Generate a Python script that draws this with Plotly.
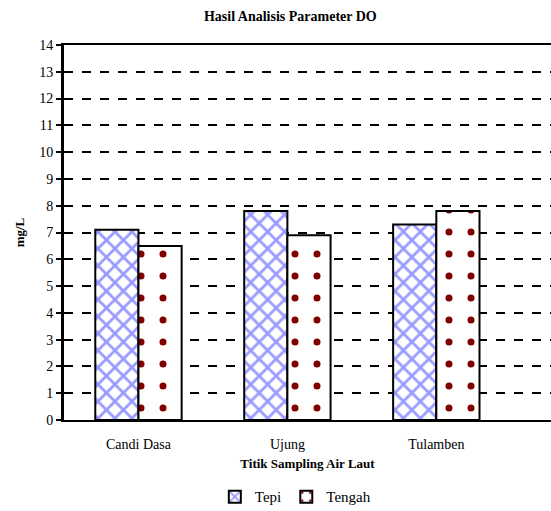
import plotly.graph_objects as go

# Dissolved oxygen (mg/L) at each seawater sampling point
lokasi = ["Candi Dasa", "Ujung", "Tulamben"]
tepi = [7.1, 7.8, 7.3]
tengah = [6.5, 6.9, 7.8]
y_ticks = list(range(0, 15))

SERIF = "Liberation Serif, DejaVu Serif, serif"

fig = go.Figure()
fig.add_trace(go.Bar(
    name="Tepi", x=lokasi, y=tepi,
    marker=dict(
        color="white",
        line=dict(color="black", width=2),
        pattern=dict(shape="x", fgcolor="#9999FF", bgcolor="white", fgopacity=1,
                     size=12, solidity=0.4, fillmode="overlay"),
    ),
))
fig.add_trace(go.Bar(
    name="Tengah", x=lokasi, y=tengah,
    marker=dict(
        color="white",
        line=dict(color="black", width=2),
        pattern=dict(shape=".", fgcolor="#800000", bgcolor="white", fgopacity=1,
                     size=22, solidity=0.08, fillmode="overlay"),
    ),
))

fig.update_layout(
    width=551, height=511,
    margin=dict(l=64, r=0, t=45, b=91, autoexpand=False),
    paper_bgcolor="white", plot_bgcolor="white",
    barmode="group", bargap=0.42, bargroupgap=0,
    font=dict(family=SERIF, size=13, color="black"),
    title=dict(text="<b>Hasil Analisis Parameter DO</b>", x=0.527, xanchor="center",
               y=0.968, yanchor="middle", font=dict(size=14, family=SERIF)),
    showlegend=True,
    legend=dict(orientation="h", x=0.475, xanchor="center", y=-0.205, yanchor="middle",
                font=dict(size=15, family=SERIF), itemwidth=30, traceorder="normal"),
    xaxis=dict(
        range=[-0.5, 2.77], showline=True, linecolor="black", linewidth=2,
        mirror=True, ticks="", showgrid=False, ticklabelstandoff=10, automargin=False,
        tickfont=dict(size=14, family=SERIF),
        title=dict(text="<b>Titik Sampling Air Laut</b>", standoff=8,
                   font=dict(size=13, family=SERIF)),
    ),
    yaxis=dict(
        range=[0, 14], tickvals=y_ticks, ticktext=[str(v) for v in y_ticks],
        showline=True, linecolor="black", linewidth=3, automargin=False,
        ticks="outside", ticklen=5, tickwidth=2, tickcolor="black",
        showgrid=True, gridcolor="black", gridwidth=2, griddash="dash",
        zeroline=False, tickfont=dict(size=14, family=SERIF),
        title=dict(text="<b>mg/L</b>", standoff=12, font=dict(size=13, family=SERIF)),
    ),
)

fig.write_html("out.html")
